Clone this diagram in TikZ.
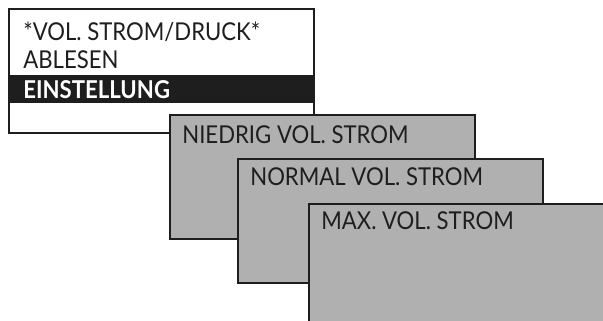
\documentclass[tikz,border=0pt]{standalone}
\usepackage{fontspec}
\setmainfont{Lato}[FakeStretch=0.9]
\usepackage{tikz}
\usetikzlibrary{positioning}
\definecolor{screengray}{RGB}{176,176,176}
\definecolor{frameline}{RGB}{30,30,30}
\tikzset{frame/.style={draw=frameline,line width=1.1pt,anchor=north west,inner sep=0pt,minimum width=6.1cm,minimum height=2.48cm},
 menu/.style={frame,fill=white},
 sub/.style={frame,fill=screengray},
 txt/.style={anchor=base west,inner sep=0pt,font=\fontsize{14}{16}\selectfont,text=frameline},
 sel/.style={anchor=north west,fill=frameline,text=white,font=\fontsize{14}{16}\selectfont\bfseries,text width=5.5cm,inner xsep=0.3cm,inner ysep=0pt,minimum height=0.56cm,align=left}}
\begin{document}
\begin{tikzpicture}[x=0.02cm,y=-0.02cm]
\useasboundingbox (0,0) rectangle (603,321);
\clip (0,0) rectangle (603,321);
\node[menu](menu) at (8,8) {};
\node[txt](head) at ([shift={(15,32)}]menu.north west) {*VOL. STROM/DRUCK*};
\node[txt](read) at ([shift={(0,29)}]head.base west) {ABLESEN};
\node[sel](set) at (8,75) {EINSTELLUNG};
\node[sub](low) at (169,114) {};\node[txt] at ([shift={(13,29)}]low.north west) {NIEDRIG VOL. STROM};
\node[sub](norm) at (237,158) {};\node[txt] at ([shift={(13,27)}]norm.north west) {NORMAL VOL. STROM};
\node[sub](max) at (308,203) {};\node[txt] at ([shift={(13,27)}]max.north west) {MAX. VOL. STROM};
\end{tikzpicture}
\end{document}
